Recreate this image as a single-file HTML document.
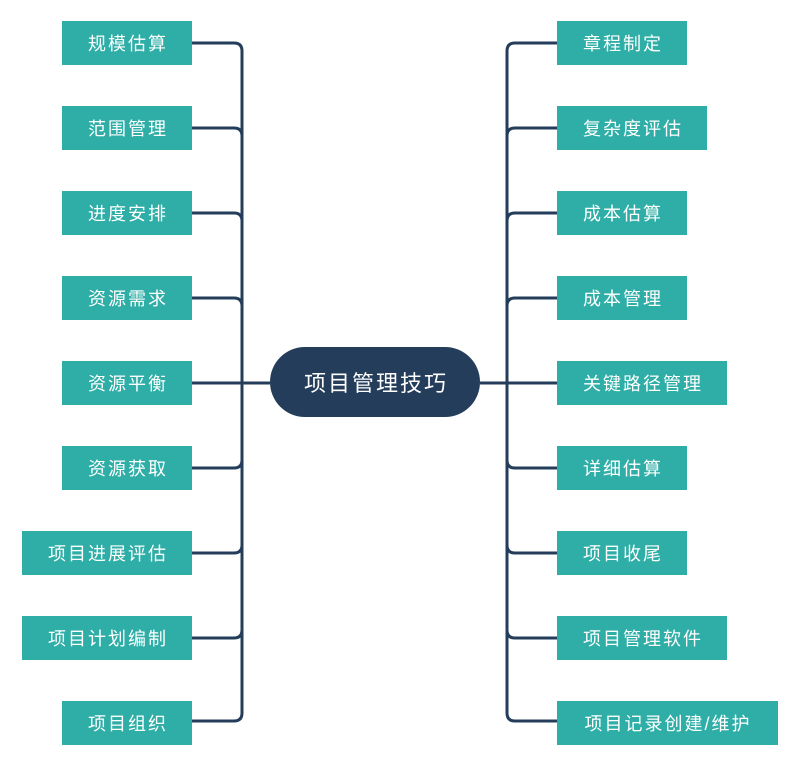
<!DOCTYPE html>
<html><head><meta charset="utf-8"><style>body{margin:0;background:#fff}svg{display:block}text{font-family:"Liberation Sans","Noto Sans CJK SC",sans-serif;fill:#fff}</style></head><body>
<svg width="800" height="765" viewBox="0 0 800 765">
<g fill="none" stroke="#243d5a" stroke-width="3">
<path d="M192 43H234Q242 43 242 51V713Q242 721 234 721H192"/>
<path d="M192 128H234M192 213H234M192 298H234M192 383H242M192 468H234M192 553H234M192 638H234"/>
<path d="M557 43H515Q507 43 507 51V713Q507 721 515 721H557"/>
<path d="M515 128H557M515 213H557M515 298H557M507 383H557M515 468H557M515 553H557M515 638H557"/>
<path d="M234 128Q242 128 242 136M234 213Q242 213 242 221M234 298Q242 298 242 306M234 468Q242 468 242 460M234 553Q242 553 242 545M234 638Q242 638 242 630"/>
<path d="M515 128Q507 128 507 136M515 213Q507 213 507 221M515 298Q507 298 507 306M515 468Q507 468 507 460M515 553Q507 553 507 545M515 638Q507 638 507 630"/>
<path d="M242 383H270M480 383H507"/>
</g>
<g fill="#2eaea6">
<rect x="62" y="21" width="130" height="44"/><rect x="62" y="106" width="130" height="44"/><rect x="62" y="191" width="130" height="44"/><rect x="62" y="276" width="130" height="44"/><rect x="62" y="361" width="130" height="44"/><rect x="62" y="446" width="130" height="44"/><rect x="22" y="531" width="170" height="44"/><rect x="22" y="616" width="170" height="44"/><rect x="62" y="701" width="130" height="44"/>
<rect x="557" y="21" width="130" height="44"/><rect x="557" y="106" width="150" height="44"/><rect x="557" y="191" width="130" height="44"/><rect x="557" y="276" width="130" height="44"/><rect x="557" y="361" width="170" height="44"/><rect x="557" y="446" width="130" height="44"/><rect x="557" y="531" width="130" height="44"/><rect x="557" y="616" width="170" height="44"/><rect x="557" y="701" width="221" height="44"/>
</g>
<rect x="270" y="347" width="210" height="70" rx="35" fill="#243d5a"/>
<text x="376" y="391" font-size="22" letter-spacing="2" text-anchor="middle">项目管理技巧</text>
<g font-size="18" letter-spacing="2" text-anchor="middle">
<text x="128" y="50">规模估算</text><text x="128" y="135">范围管理</text><text x="128" y="220">进度安排</text><text x="128" y="305">资源需求</text><text x="128" y="390">资源平衡</text><text x="128" y="475">资源获取</text><text x="108" y="560">项目进展评估</text><text x="108" y="645">项目计划编制</text><text x="128" y="730">项目组织</text>
<text x="623" y="50">章程制定</text><text x="633" y="135">复杂度评估</text><text x="623" y="220">成本估算</text><text x="623" y="305">成本管理</text><text x="643" y="390">关键路径管理</text><text x="623" y="475">详细估算</text><text x="623" y="560">项目收尾</text><text x="643" y="645">项目管理软件</text><text x="668" y="730">项目记录创建/维护</text>
</g>
</svg>
</body></html>
